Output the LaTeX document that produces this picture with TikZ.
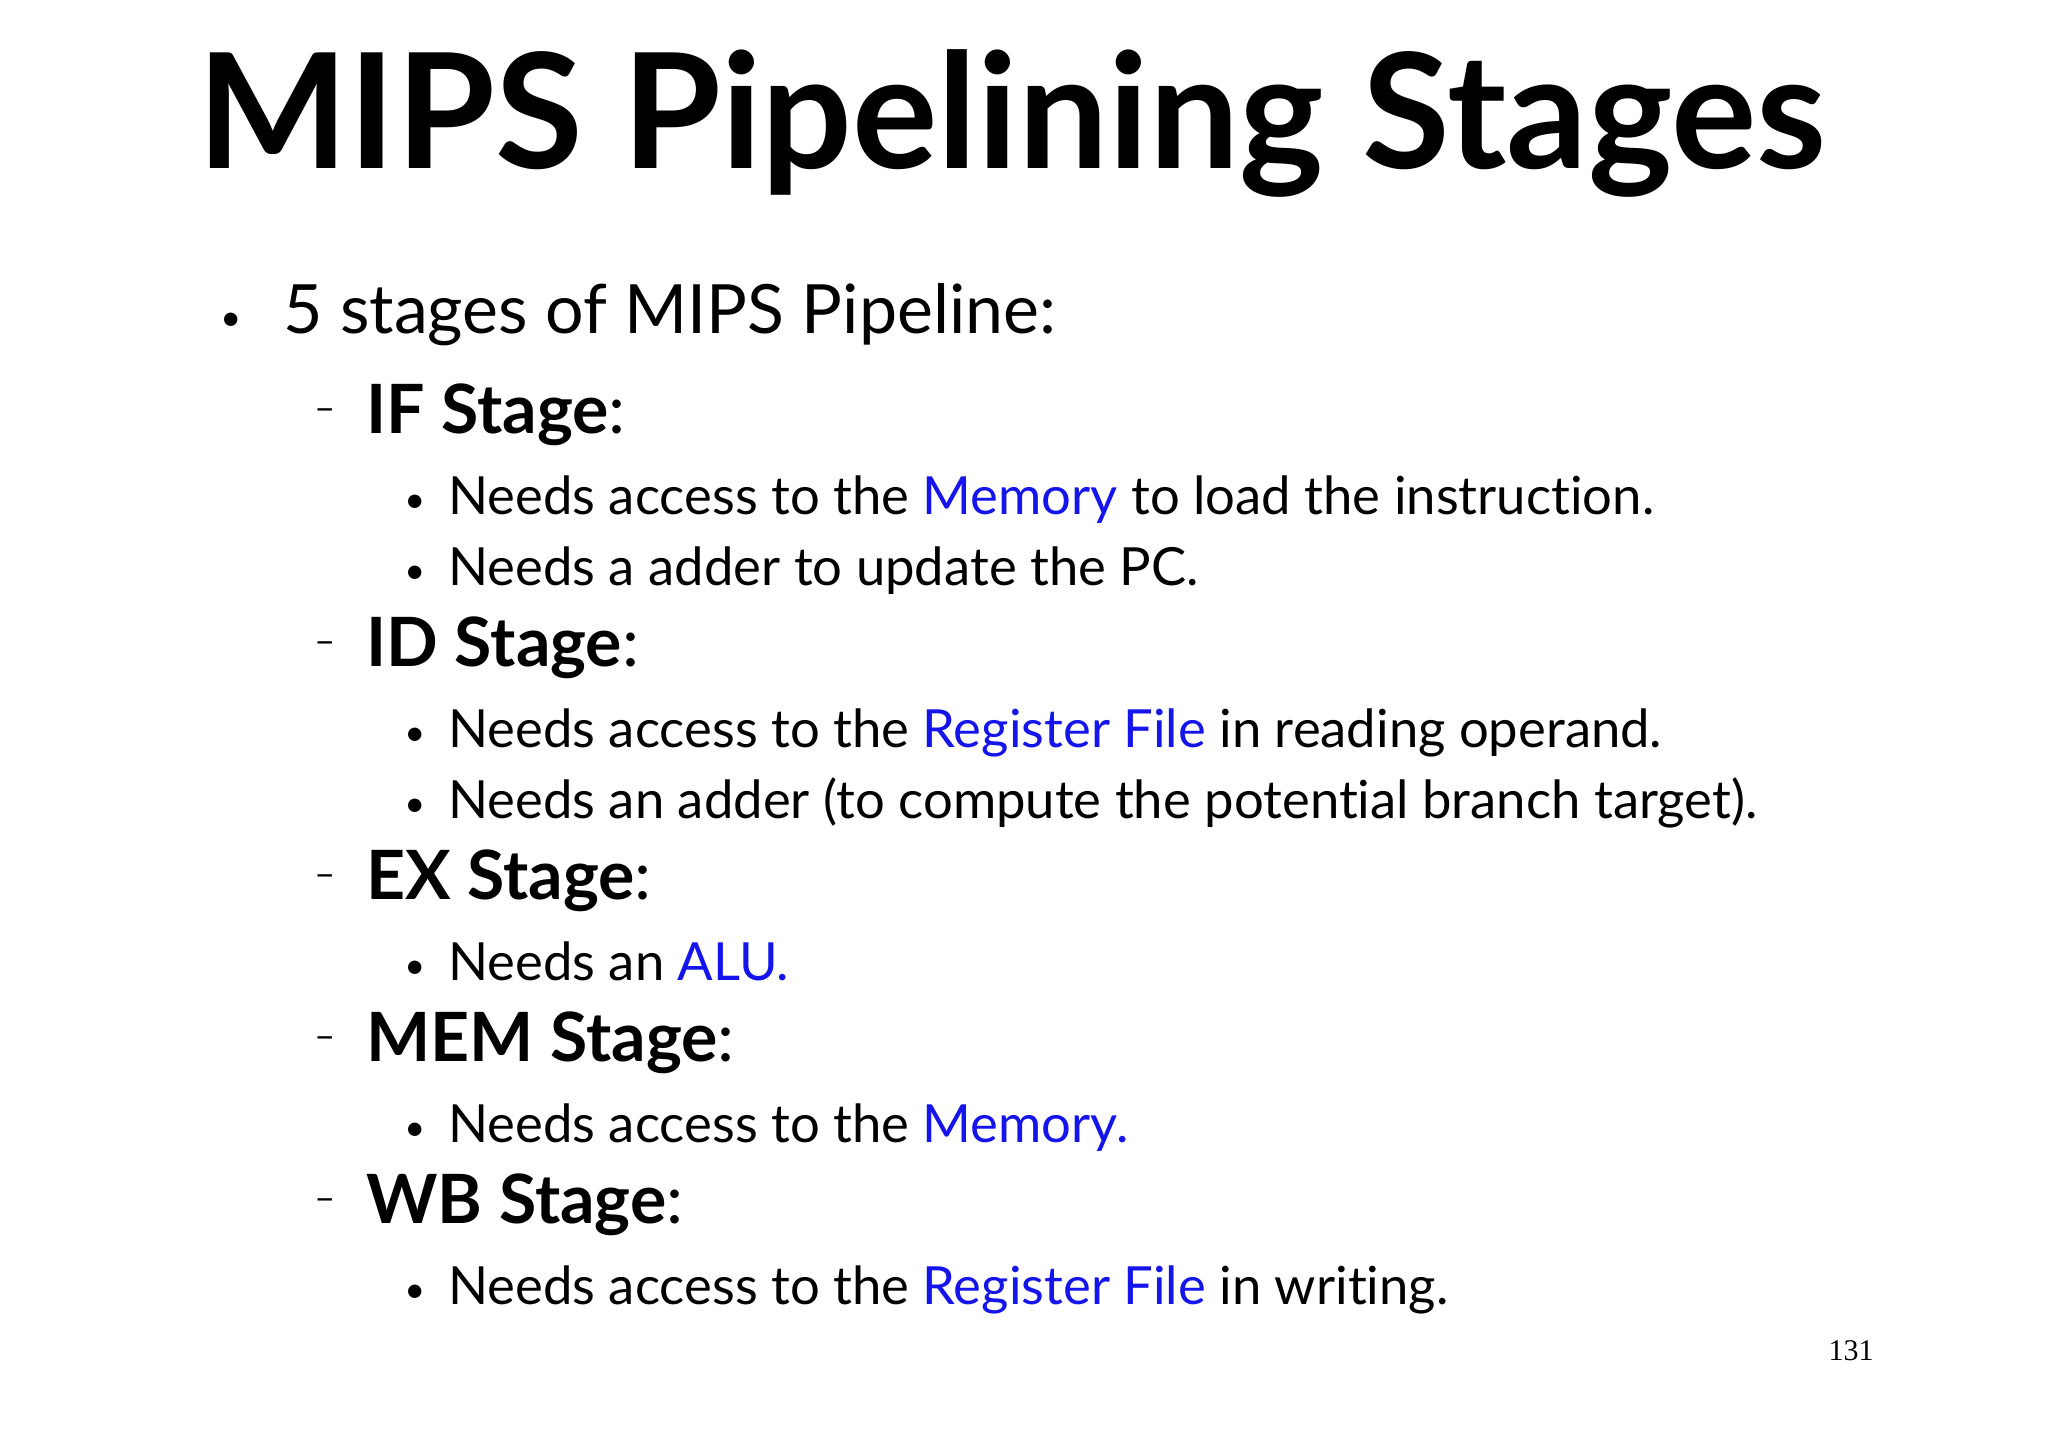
\documentclass[tikz,border=0pt]{standalone}
\usepackage{fontspec}
\setmainfont[Ligatures=NoCommon]{Lato}
\newfontfamily\numfont{Liberation Serif}
\definecolor{hl}{RGB}{20,20,235}
\begin{document}
\begin{tikzpicture}[x=0.5pt,y=-0.5pt,
  lvA/.style={anchor=base west,inner sep=0,font=\fontsize{34}{40}\selectfont},
  lvB/.style={anchor=base west,inner sep=0,font=\fontsize{34}{40}\selectfont\bfseries},
  lvC/.style={anchor=base west,inner sep=0,font=\fontsize{26.3}{32}\selectfont},
  dot/.style={anchor=base west,inner sep=0,font=\fontsize{18}{20}\selectfont},
  dsh/.style={anchor=base west,inner sep=0,font=\fontsize{18}{20}\selectfont}]
\useasboundingbox[fill=white] (0,0) rectangle (2048,1447);
\node[anchor=base,inner sep=0,font=\fontsize{80}{84}\selectfont\bfseries] (title) at (1012,168) {MIPS Pipelining Stages};
\node[dot] (b0) at (220,330) {•};
\node[lvA] (t0) at (283,333) {5 stages of MIPS Pipeline:};
\node[dsh] (d1) at (314,420) {–};
\node[lvB] (s1) at (366,433) {IF Stage\mdseries:};
\node[dot] (b11) at (404,512) {•};
\node[lvC] (t11) at (448,514) {Needs access to the \textcolor{hl}{Memory} to load the instruction.};
\node[dot] (b12) at (404,583) {•};
\node[lvC] (t12) at (448,585) {Needs a adder to update the PC.};
\node[dsh] (d2) at (314,653) {–};
\node[lvB] (s2) at (366,666) {ID Stage\mdseries:};
\node[dot] (b21) at (404,745) {•};
\node[lvC] (t21) at (448,747) {Needs access to the \textcolor{hl}{Register File} in reading operand.};
\node[dot] (b22) at (404,816) {•};
\node[lvC] (t22) at (448,818) {Needs an adder (to compute the potential branch target).};
\node[dsh] (d3) at (314,886) {–};
\node[lvB] (s3) at (366,899) {EX Stage\mdseries:};
\node[dot] (b31) at (404,978) {•};
\node[lvC] (t31) at (448,980) {Needs an \textcolor{hl}{ALU.}};
\node[dsh] (d4) at (314,1048) {–};
\node[lvB] (s4) at (366,1061) {MEM Stage\mdseries:};
\node[dot] (b41) at (404,1140) {•};
\node[lvC] (t41) at (448,1142) {Needs access to the \textcolor{hl}{Memory.}};
\node[dsh] (d5) at (314,1210) {–};
\node[lvB] (s5) at (366,1223) {WB Stage\mdseries:};
\node[dot] (b51) at (404,1302) {•};
\node[lvC] (t51) at (448,1304) {Needs access to the \textcolor{hl}{Register File} in writing.};
\node[anchor=base east,inner sep=0,font=\numfont\fontsize{15}{18}\selectfont] (pg) at (1874,1360) {131};
\end{tikzpicture}
\end{document}
